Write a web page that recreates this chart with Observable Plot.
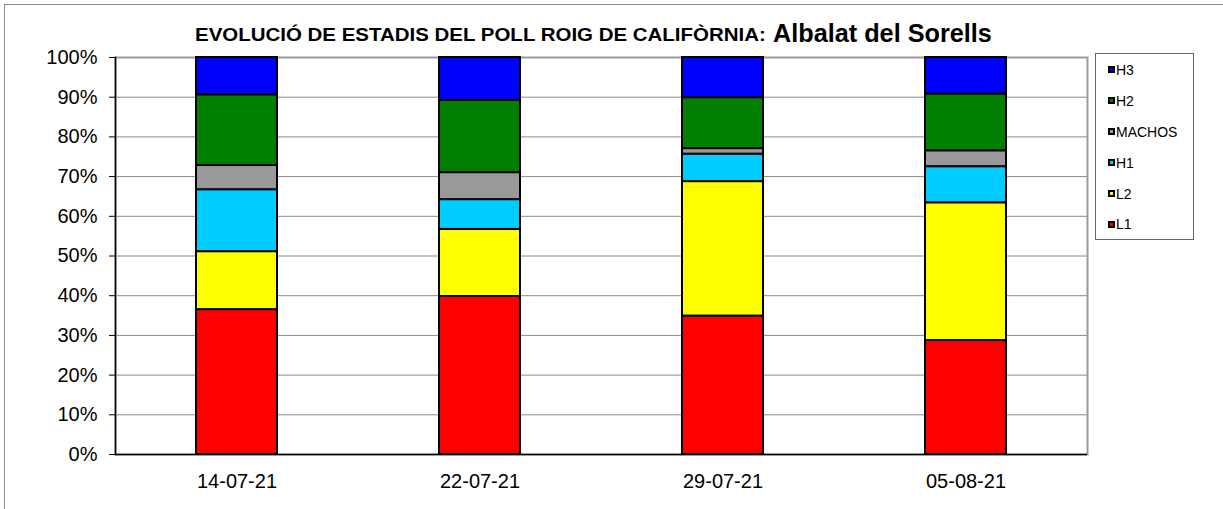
<!DOCTYPE html>
<html><head><meta charset="utf-8">
<script src="https://cdn.jsdelivr.net/npm/d3@7"></script>
<script src="https://cdn.jsdelivr.net/npm/@observablehq/plot@0.6"></script>
<style>
body{margin:0;background:#fff;font-family:"Liberation Sans",Arial,sans-serif;}
#wrap{position:relative;width:1223px;height:509px;overflow:hidden;background:#fff;}
#frame{position:absolute;left:4px;top:4px;width:1300px;height:600px;border-left:1px solid #8a8a8a;border-top:1px solid #8a8a8a;}
#chart{position:absolute;left:0;top:40px;}
.t{position:absolute;font-weight:bold;color:#000;white-space:nowrap;transform-origin:0 0;}
#ta{left:195px;top:25px;font-size:18px;line-height:20px;transform:scaleX(1.137);}
#tb{left:773px;top:19px;font-size:25px;line-height:28px;transform:scaleX(1.01);}
#legend{position:absolute;left:1095px;top:53px;width:97px;height:185px;border:1px solid #666;background:#fff;}
.item{display:flex;align-items:center;height:30.9px;padding-left:12px;font-size:14px;color:#000;}
.item:first-child{margin-top:0.5px;}
.sw{width:3px;height:3px;border:2px solid #000;margin-right:1px;}
</style>
</head><body>
<div id="wrap">
  <div id="frame"></div>
  <div id="chart"></div>
  <div class="t" id="ta">EVOLUCIÓ DE ESTADIS DEL POLL ROIG DE CALIFÒRNIA:</div>
  <div class="t" id="tb">Albalat del Sorells</div>
  <div id="legend"></div>
</div>
<script>
const dates = ["14-07-21", "22-07-21", "29-07-21", "05-08-21"];
const series = ["L1", "L2", "H1", "MACHOS", "H2", "H3"];
const colors = ["#ff0000", "#ffff00", "#00ccff", "#999999", "#007f00", "#0000ff"];
const L1 = [36.5, 39.8, 34.8, 28.7];
const L2 = [14.6, 16.9, 33.8, 34.7];
const H1 = [15.6, 7.5, 6.9, 9.1];
const MACHOS = [6.1, 6.8, 1.4, 4.0];
const H2 = [17.8, 18.2, 12.8, 14.3];
const H3 = [9.4, 10.8, 10.1, 9.2];
const yTicks = [0, 0.1, 0.2, 0.3, 0.4, 0.5, 0.6, 0.7, 0.8, 0.9, 1];

const valuesBySeries = {L1, L2, H1, MACHOS, H2, H3};
const data = [];
dates.forEach((d, i) => series.forEach(s => data.push({date: d, stage: s, value: valuesBySeries[s][i]})));

const chart = Plot.plot({
  width: 1223,
  height: 469,
  marginLeft: 115,
  marginRight: 136,
  marginTop: 17,
  marginBottom: 55,
  style: {background: "transparent", color: "#000", fontFamily: "'Liberation Sans', Arial, sans-serif"},
  x: {domain: dates, paddingInner: 0.667, paddingOuter: 0.333, label: null},
  y: {domain: [0, 1], label: null},
  color: {domain: series, range: colors},
  marks: [
    Plot.gridY(yTicks, {stroke: "#8a8a8a", strokeOpacity: 1}),
    Plot.frame({stroke: "#9a9a9a", strokeWidth: 2}),
    Plot.barY(data, Plot.stackY({x: "date", y: "value", fill: "stage", order: series, offset: "normalize", stroke: "#000", strokeWidth: 2})),
    Plot.ruleY([0], {stroke: "#000", strokeWidth: 1.5}),
    Plot.frame({anchor: "left", stroke: "#000", strokeWidth: 1.5}),
    Plot.axisY(yTicks, {tickFormat: d3.format(".0%"), tickSize: 6, tickPadding: 12, fontSize: 20, label: null}),
    Plot.axisX({tickSize: 0, tickPadding: 19, fontSize: 20, label: null})
  ]
});
document.getElementById("chart").appendChild(chart);

const legend = document.getElementById("legend");
series.slice().reverse().forEach(s => {
  const it = document.createElement("div");
  it.className = "item";
  const sw = document.createElement("span");
  sw.className = "sw";
  sw.style.background = colors[series.indexOf(s)];
  it.appendChild(sw);
  it.appendChild(document.createTextNode(s));
  legend.appendChild(it);
});
</script>
</body></html>
